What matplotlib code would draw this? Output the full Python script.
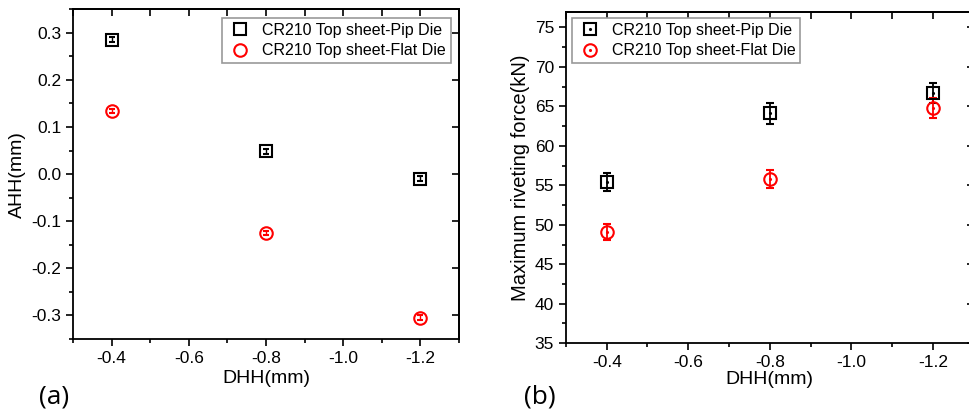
import numpy as np
import matplotlib
matplotlib.use('Agg')
import matplotlib.pyplot as plt
from matplotlib.ticker import MultipleLocator
from matplotlib.legend_handler import HandlerTuple

plt.rcParams['font.family'] = ['Liberation Sans', 'DejaVu Sans']
plt.rcParams['axes.unicode_minus'] = False

# data
dhh = [-0.4, -0.8, -1.2]

ahh_pip = [0.285, 0.048, -0.010]
ahh_pip_err = [0.005, 0.005, 0.005]
ahh_flat = [0.134, -0.125, -0.305]
ahh_flat_err = [0.005, 0.005, 0.005]

force_pip = [55.4, 64.1, 66.7]
force_pip_err = [1.1, 1.3, 1.3]
force_flat = [49.1, 55.8, 64.8]
force_flat_err = [1.0, 1.1, 1.3]

labels = ['CR210 Top sheet-Pip Die', 'CR210 Top sheet-Flat Die']


def style_axes(ax, ymajor, yminor):
    ax.xaxis.set_major_locator(MultipleLocator(0.2))
    ax.xaxis.set_minor_locator(MultipleLocator(0.1))
    ax.yaxis.set_major_locator(MultipleLocator(ymajor))
    ax.yaxis.set_minor_locator(MultipleLocator(yminor))
    ax.tick_params(which='major', direction='out', length=5, width=1.2,
                   labelsize=12.5)
    ax.tick_params(which='minor', direction='out', length=3, width=1.2)
    for s in ax.spines.values():
        s.set_linewidth(1.3)
    # inward ticks on top / right (Origin look)
    top = ax.secondary_xaxis('top')
    top.xaxis.set_major_locator(MultipleLocator(0.1))
    top.tick_params(direction='in', length=5, width=1.2, labeltop=False)
    top.spines['top'].set_linewidth(1.3)
    right = ax.secondary_yaxis('right')
    right.yaxis.set_major_locator(MultipleLocator(ymajor))
    right.tick_params(direction='in', length=5, width=1.2, labelright=False)
    right.spines['right'].set_linewidth(1.3)


legend_kw = dict(fontsize=11.5, fancybox=False, edgecolor='#999999',
                 framealpha=1, handletextpad=0.6, borderpad=0.3,
                 labelspacing=0.35, handlelength=1.6, borderaxespad=0)

fig = plt.figure(figsize=(9.69, 4.17), dpi=100)

# ---- (a)
ax1 = fig.add_axes([0.0753, 0.187, 0.3984, 0.791])
ax1.errorbar(dhh, ahh_pip, yerr=ahh_pip_err, fmt='s', ms=8, mfc='none',
             mec='black', mew=1.5, ecolor='black', elinewidth=1, capsize=2.5)
ax1.errorbar(dhh, ahh_flat, yerr=ahh_flat_err, fmt='o', ms=9, mfc='none',
             mec='red', mew=1.5, ecolor='red', elinewidth=1, capsize=2.5)
ax1.set_xlim(-0.3, -1.3)
ax1.set_ylim(-0.35, 0.35)
style_axes(ax1, 0.1, 0.05)
ax1.set_xticks([-0.4, -0.6, -0.8, -1.0, -1.2])
ax1.set_xlabel('DHH(mm)', fontsize=14, labelpad=3)
ax1.set_ylabel('AHH(mm)', fontsize=14, labelpad=4)
h1 = ax1.plot([], [], 's', ms=8, mfc='none', mec='black', mew=1.5)[0]
h2 = ax1.plot([], [], 'o', ms=9, mfc='none', mec='red', mew=1.5)[0]
leg1 = ax1.legend([h1, h2], labels, loc='upper right',
                  bbox_to_anchor=(0.979, 0.974), **legend_kw)
leg1.get_frame().set_linewidth(1.2)

# ---- (b)
ax2 = fig.add_axes([0.584, 0.177, 0.421, 0.795])
ax2.errorbar(dhh, force_pip, yerr=force_pip_err, fmt='s', ms=8, mfc='none',
             mec='black', mew=1.5, ecolor='black', elinewidth=1.3, capsize=3)
ax2.plot(dhh, force_pip, '.', ms=2.5, color='black')
ax2.errorbar(dhh, force_flat, yerr=force_flat_err, fmt='o', ms=9, mfc='none',
             mec='red', mew=1.5, ecolor='red', elinewidth=1.3, capsize=3)
ax2.plot(dhh, force_flat, '.', ms=2.5, color='red')
ax2.set_xlim(-0.3, -1.3)
ax2.set_ylim(35, 77)
style_axes(ax2, 5, 2.5)
ax2.set_xticks([-0.4, -0.6, -0.8, -1.0, -1.2])
ax2.set_xlabel('DHH(mm)', fontsize=14, labelpad=1)
ax2.set_ylabel('Maximum riveting force(kN)', fontsize=14.5, labelpad=3)
p1 = ax2.plot([], [], 's', ms=8, mfc='none', mec='black', mew=1.5)[0]
p1d = ax2.plot([], [], '.', ms=2.5, color='black')[0]
p2 = ax2.plot([], [], 'o', ms=9, mfc='none', mec='red', mew=1.5)[0]
p2d = ax2.plot([], [], '.', ms=2.5, color='red')[0]
leg2 = ax2.legend([(p1, p1d), (p2, p2d)], labels, loc='upper left',
                  bbox_to_anchor=(0.015, 0.981),
                  handler_map={tuple: HandlerTuple(ndivide=1)}, **legend_kw)
leg2.get_frame().set_linewidth(1.2)

fig.text(0.056, 0.048, '(a)', fontsize=19, family=['Open Sans', 'DejaVu Sans'],
         ha='center', va='center')
fig.text(0.557, 0.048, '(b)', fontsize=19, family=['Open Sans', 'DejaVu Sans'],
         ha='center', va='center')

fig.savefig('out.png', dpi=100)
